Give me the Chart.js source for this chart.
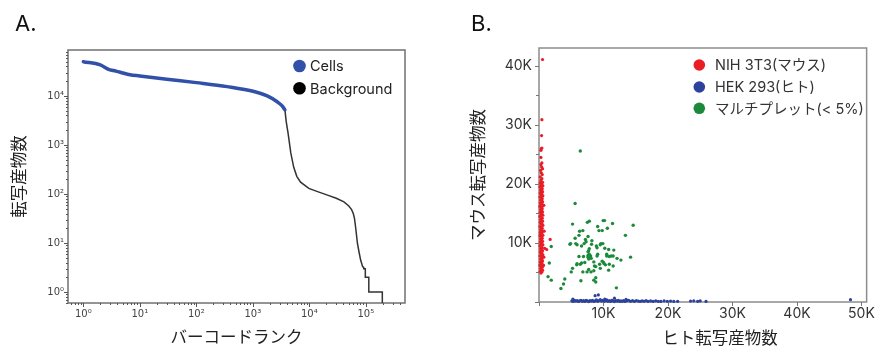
<!DOCTYPE html>
<html><head><meta charset="utf-8">
<script src="https://cdn.jsdelivr.net/npm/chart.js@4"></script>
<style>
html,body{margin:0;padding:0;background:#fff;}
#wrap{position:relative;width:878px;height:347px;overflow:hidden;background:#fff;}
#ca{position:absolute;left:0;top:0;}
#cb{position:absolute;left:440px;top:0;}
</style></head><body>
<div id="wrap"><canvas id="ca" width="440" height="347"></canvas><canvas id="cb" width="438" height="347"></canvas></div>
<script>
// ---------- Panel A: barcode rank plot ----------
const panelLabels = ['A.', 'B.'];
const legendA = ['Cells', 'Background'];
const xTitleA = 'バーコードランク';
const yTitleA = '転写産物数';
const xTickLabelsA = ['10⁰', '10¹', '10²', '10³', '10⁴', '10⁵'];
const yTickLabelsA = ['10⁰', '10¹', '10²', '10³', '10⁴'];
const cellRanks  = [1, 2, 2.8, 3.4, 4.5, 6.7, 10, 30, 100, 350, 1050, 1800, 2700, 3300, 3700];
const cellCounts = [50000, 43000, 35000, 33000, 30500, 27000, 25600, 22000, 18700, 15500, 12300, 10000, 7600, 6300, 5200];
const bgRanks  = [3700, 3900, 4200, 4700, 5300, 6000, 7000, 9800, 14000, 21000, 30000, 41000, 50000, 56000, 60000, 63000, 66000, 71000, 76000, 81000, 88000, 92000, 92000, 98000, 98000, 113000, 113000, 196000, 196000];
const bgCounts = [5200, 3000, 1760, 690, 350, 230, 175, 130, 112, 95, 82, 69, 57, 48, 40, 32, 21, 10, 6.5, 4.5, 3.3, 3.2, 3, 3, 2, 2, 1, 1, 0.1];

// ---------- Panel B: species mixing (values in thousands) ----------
const legendB = ['NIH 3T3(マウス)', 'HEK 293(ヒト)', 'マルチプレット(< 5%)'];
const xTitleB = 'ヒト転写産物数';
const yTitleB = 'マウス転写産物数';
const xTickLabelsB = ['10K', '20K', '30K', '40K', '50K'];
const yTickLabelsB = ['10K', '20K', '30K', '40K'];
const mouseCellsK = [
[0.30,4.9],[0.45,5.1],[0.20,5.2],[0.55,5.4],[0.35,5.5],[0.25,5.7],[0.50,5.9],[0.40,6.0],[0.15,6.2],[0.60,6.3],
[0.30,6.5],[0.45,6.7],[0.20,6.8],[0.55,7.0],[0.35,7.2],[0.25,7.3],[0.50,7.5],[0.40,7.7],[0.15,7.8],[0.60,8.0],
[0.30,8.2],[0.45,8.3],[0.20,8.5],[0.55,8.7],[0.35,8.8],[0.25,9.0],[0.50,9.2],[0.40,9.3],[0.15,9.5],[0.60,9.7],
[0.30,9.8],[0.45,10.0],[0.20,10.2],[0.55,10.3],[0.35,10.5],[0.25,10.7],[0.50,10.8],[0.40,11.0],[0.15,11.2],[0.60,11.3],
[0.30,11.5],[0.45,11.7],[0.20,11.8],[0.55,12.0],[0.35,12.2],[0.25,12.3],[0.50,12.5],[0.40,12.7],[0.15,12.8],[0.60,13.0],
[0.30,13.2],[0.45,13.3],[0.20,13.5],[0.55,13.7],[0.35,13.8],[0.25,14.0],[0.50,14.2],[0.40,14.3],[0.15,14.5],[0.60,14.7],
[0.30,14.8],[0.45,15.0],[0.20,15.2],[0.55,15.3],[0.35,15.5],[0.25,15.7],[0.50,15.8],[0.40,16.0],[0.15,16.2],[0.60,16.3],
[0.30,16.5],[0.45,16.7],[0.20,16.8],[0.55,17.0],[0.35,17.2],[0.25,17.3],[0.50,17.5],[0.40,17.7],[0.15,17.8],[0.60,18.0],
[0.30,18.2],[0.45,18.3],[0.20,18.5],[0.55,18.7],[0.35,18.8],[0.25,19.0],[0.50,19.2],[0.40,19.3],[0.15,19.5],[0.60,19.7],
[0.30,19.8],[0.45,20.0],[0.20,20.2],[0.55,20.3],
[0.30,20.6],[0.45,20.9],[0.20,21.2],[0.50,21.6],[0.35,21.9],[0.25,22.3],[0.55,22.6],[0.40,22.9],[0.30,23.3],[0.45,23.6],
[0.30,24.5],[0.30,25.7],[0.45,26.1],[0.35,26.0],[0.40,28.2],[0.45,30.9],[0.55,41.1],
[1.73,10.6],[1.20,8.9],[0.90,9.1],[0.75,7.6],[0.80,12.0],[0.70,6.2],[0.75,16.4]
];
const humanCellsK = [
[5.1,0.2],[5.3,0.1],[5.5,0.3],[5.7,0.15],[5.9,0.25],[6.1,0.1],[6.3,0.2],[6.5,0.3],[6.7,0.12],[6.9,0.22],
[7.1,0.1],[7.3,0.3],[7.5,0.18],[7.7,0.08],[7.9,0.25],[8.1,0.15],[8.3,0.3],[8.5,0.1],[8.7,0.2],[8.9,0.35],
[9.1,0.12],[9.3,0.25],[9.5,0.4],[9.7,0.15],[9.9,0.3],[10.1,0.1],[10.3,0.22],[10.5,0.35],[10.7,0.12],[10.9,0.25],
[11.1,0.1],[11.3,0.3],[11.5,0.18],[11.7,0.08],[11.9,0.25],[12.1,0.15],[12.3,0.3],[12.5,0.1],[12.7,0.2],[12.9,0.12],
[13.1,0.25],[13.3,0.1],[13.6,0.2],[13.9,0.3],[14.2,0.12],[14.5,0.22],[14.8,0.1],[15.1,0.25],[15.4,0.15],[15.7,0.1],
[16.0,0.2],[16.3,0.12],[16.6,0.25],[16.9,0.1],[17.3,0.18],[17.7,0.1],[18.1,0.2],[18.5,0.12],[18.9,0.1],[19.4,0.2],
[19.9,0.12],[20.4,0.15],[20.9,0.1],[21.5,0.12],
[8.7,1.07],[9.2,1.2],[11.7,0.65],[5.25,0.5],[10.2,0.5],[13.5,0.45],
[23.5,0.15],[24.0,0.2],[24.6,0.12],[25.0,0.18],[25.9,0.1],[48.3,0.4]
];
const multipletsK = [
[6.4,25.6],[5.6,16.7],[5.2,13.2],[7.5,13.5],[7.8,13.7],[9.95,13.8],[10.15,13.8],[11.4,13.3],[14.6,13.0],[9.1,12.8],
[6.8,12.1],[9.3,12.1],[9.8,12.1],[10.6,12.5],[6.2,11.3],[13.4,11.3],[5.6,10.8],[7.2,10.6],[7.6,11.1],[7.0,9.9],
[8.15,9.8],[4.8,9.8],[5.7,9.9],[6.6,9.5],[9.6,9.9],[8.9,9.5],[7.7,8.7],[10.2,9.1],[11.6,8.8],[9.1,8.1],
[7.6,7.9],[7.8,7.7],[7.9,7.5],[7.7,7.3],[8.0,7.8],[7.8,8.1],[7.6,7.6],[8.1,7.4],
[6.2,7.7],[6.9,7.7],[10.5,8.1],[10.9,7.7],[11.5,7.8],[11.2,7.8],[12.1,7.4],[12.7,7.1],[14.2,7.6],[5.85,6.3],
[6.6,6.6],[7.1,6.7],[5.2,5.7],[5.0,5.1],[6.4,6.4],[8.5,6.8],[9.4,6.4],[10.0,6.7],[10.3,6.3],[10.9,6.4],
[11.5,6.1],[8.8,6.0],[9.5,5.7],[7.7,5.5],[6.8,5.1],[7.45,5.1],[8.06,5.1],[8.5,5.3],[10.8,5.4],[8.8,4.1],
[8.5,3.7],[8.8,3.4],[6.5,3.6],[12.0,2.4],[1.6,6.6],[1.4,4.3],[1.9,3.7],[4.0,3.9],[3.8,3.05],[3.4,2.3],
[1.9,9.4],[5.9,6.5],[9.0,7.8],[10.5,7.8],[9.0,9.2],[10.8,8.9],[8.2,10.4],[7.3,10.2],[9.5,9.7],[5.9,9.7],
[7.8,9.05],[7.6,8.5],[9.9,9.9],[4.9,9.9],[6.3,12.0],[8.6,6.1],[9.8,6.9],[10.1,6.5]
];

const FONT = "Inter, 'Noto Sans CJK JP', sans-serif";
const JP = "'Noto Sans CJK JP', Inter, sans-serif";
const COL_RED = '#ea1d25', COL_BLUE = '#2d429c', COL_GREEN = '#1d8a3b', COL_CELLS = '#3150a8';

function isPow10(v) { const l = Math.log10(v); return Math.abs(l - Math.round(l)) < 1e-9; }
function logTickValues(min, max) {
  const out = [];
  for (let d = Math.floor(Math.log10(min)); d <= Math.ceil(Math.log10(max)); d++) {
    for (let m = 1; m <= 9; m++) { const v = m * Math.pow(10, d); if (v >= min && v <= max) out.push(v); }
  }
  return out;
}

const framePlugin = (color, width) => ({
  id: 'frame',
  beforeDatasetsDraw(chart) {
    const {ctx, chartArea: a} = chart;
    ctx.save(); ctx.strokeStyle = color; ctx.lineWidth = width;
    ctx.strokeRect(a.left, a.top, a.right - a.left, a.bottom - a.top);
    ctx.restore();
  }
});
const tickPlugin = (isMajor, majLen, minLen, color) => ({
  id: 'tickmarks',
  afterDraw(chart) {
    const {ctx, chartArea: a} = chart;
    ctx.save(); ctx.strokeStyle = color; ctx.lineWidth = 1;
    for (const id of ['x', 'y']) {
      const s = chart.scales[id];
      for (const t of s.ticks) {
        const len = isMajor(id, t.value) ? majLen : minLen;
        if (!len) continue;
        const p = Math.round(s.getPixelForValue(t.value)) + 0.5;
        ctx.beginPath();
        if (id === 'x') { ctx.moveTo(p, a.bottom); ctx.lineTo(p, a.bottom + len); }
        else { ctx.moveTo(a.left, p); ctx.lineTo(a.left - len, p); }
        ctx.stroke();
      }
    }
    ctx.restore();
  }
});
const textPlugin = (items) => ({
  id: 'texts',
  afterDraw(chart) {
    const ctx = chart.ctx; ctx.save();
    for (const t of items) {
      ctx.font = t.font; ctx.fillStyle = t.color; ctx.textAlign = t.align || 'left';
      ctx.textBaseline = t.baseline || 'alphabetic'; ctx.fillText(t.text, t.x, t.y);
    }
    ctx.restore();
  }
});
const legendPlugin = (labels, colors, cx, tx, ys, r, font, color) => ({
  id: 'customLegend',
  afterDraw(chart) {
    const ctx = chart.ctx; ctx.save();
    labels.forEach((lab, i) => {
      ctx.beginPath(); ctx.fillStyle = colors[i]; ctx.arc(cx, ys[i], r, 0, Math.PI * 2); ctx.fill();
      ctx.font = font; ctx.fillStyle = color; ctx.textAlign = 'left'; ctx.textBaseline = 'middle';
      ctx.fillText(lab, tx, ys[i] + 1);
    });
    ctx.restore();
  }
});

// ---------- Chart A ----------
const AX = {xmin: 0.535, xmax: 494000, ymin: 0.6, ymax: 86500};
new Chart(document.getElementById('ca'), {
  type: 'line',
  data: { datasets: [
    { label: legendA[1], data: bgRanks.map((r, i) => ({x: r, y: bgCounts[i]})),
      borderColor: '#333', borderWidth: 1.5, pointRadius: 0, tension: 0, order: 2 },
    { label: legendA[0], data: cellRanks.map((r, i) => ({x: r, y: cellCounts[i]})),
      borderColor: COL_CELLS, borderWidth: 3.5, pointRadius: 0, cubicInterpolationMode: 'monotone',
      borderCapStyle: 'round', order: 1 }
  ]},
  options: {
    responsive: false, animation: false, events: [],
    layout: { padding: { top: 50, right: 35, left: 0, bottom: 0 } },
    plugins: { legend: { display: false }, tooltip: { enabled: false } },
    scales: {
      x: { type: 'logarithmic', min: AX.xmin, max: AX.xmax,
        afterBuildTicks: s => { s.ticks = logTickValues(AX.xmin, AX.xmax).map(v => ({value: v})); },
        afterFit: s => { s.height = 44; },
        grid: { display: false, drawTicks: false }, border: { display: false },
        ticks: { autoSkip: false, maxRotation: 0, padding: 5, color: '#444',
          font: { family: 'DejaVu Sans', size: 10 },
          callback: v => isPow10(v) ? (xTickLabelsA[Math.round(Math.log10(v))] || '') : '' },
        title: { display: true, text: xTitleA, color: '#222', font: { family: JP, size: 16.5 }, padding: { top: 0, bottom: 0 } }
      },
      y: { type: 'logarithmic', min: AX.ymin, max: AX.ymax,
        afterBuildTicks: s => { s.ticks = logTickValues(AX.ymin, AX.ymax).map(v => ({value: v})); },
        afterFit: s => { s.width = 68; },
        grid: { display: false, drawTicks: false }, border: { display: false },
        ticks: { autoSkip: false, padding: 4, color: '#444',
          font: { family: 'DejaVu Sans', size: 10 },
          callback: v => isPow10(v) ? (yTickLabelsA[Math.round(Math.log10(v))] || '') : '' },
        title: { display: true, text: yTitleA, color: '#222', font: { family: JP, size: 16.5 }, padding: { top: 9, bottom: 0 } }
      }
    }
  },
  plugins: [
    framePlugin('#707070', 1.5),
    tickPlugin((id, v) => isPow10(v), 4, 2, '#555'),
    legendPlugin(legendA, [COL_CELLS, '#000'], 299.5, 310, [66, 88.3], 6.3, '14.5px ' + FONT, '#222'),
    textPlugin([{ text: panelLabels[0], x: 15, y: 31, font: '22px ' + FONT, color: '#111' }])
  ]
});

// ---------- Chart B ----------
const BX = {xmax: 50.8, ymax: 43.05};
new Chart(document.getElementById('cb'), {
  type: 'scatter',
  data: { datasets: [
    { label: legendB[0], data: mouseCellsK.map(([x, y]) => ({x, y})), pointRadius: 1.6,
      pointBackgroundColor: COL_RED, pointBorderColor: COL_RED, pointBorderWidth: 0, clip: 6 },
    { label: legendB[1], data: humanCellsK.map(([x, y]) => ({x, y})), pointRadius: 1.6,
      pointBackgroundColor: COL_BLUE, pointBorderColor: COL_BLUE, pointBorderWidth: 0, clip: 6 },
    { label: legendB[2], data: multipletsK.map(([x, y]) => ({x, y})), pointRadius: 1.7,
      pointBackgroundColor: COL_GREEN, pointBorderColor: COL_GREEN, pointBorderWidth: 0, clip: 6 }
  ]},
  options: {
    responsive: false, animation: false, events: [],
    layout: { padding: { top: 48, right: 10, left: 0, bottom: 0 } },
    plugins: { legend: { display: false }, tooltip: { enabled: false } },
    scales: {
      x: { type: 'linear', min: 0, max: BX.xmax,
        afterBuildTicks: s => { s.ticks = [0, 10, 20, 30, 40, 50].map(v => ({value: v})); },
        afterFit: s => { s.height = 45; },
        grid: { display: false, drawTicks: false }, border: { display: false },
        ticks: { autoSkip: false, maxRotation: 0, padding: 3, color: '#333', font: { family: FONT, size: 14 },
          callback: v => v > 0 ? (xTickLabelsB[Math.round(v / 10) - 1] || '') : '' },
        title: { display: false }
      },
      y: { type: 'linear', min: 0, max: BX.ymax,
        afterBuildTicks: s => { s.ticks = [0, 5, 10, 15, 20, 25, 30, 35, 40].map(v => ({value: v})); },
        afterFit: s => { s.width = 99; },
        grid: { display: false, drawTicks: false }, border: { display: false },
        ticks: { autoSkip: false, padding: 7, color: '#333', font: { family: FONT, size: 14 },
          callback: v => (v > 0 && v % 10 === 0) ? (yTickLabelsB[v / 10 - 1] || '') : '' },
        title: { display: true, text: yTitleB, color: '#222', font: { family: JP, size: 16.5 }, padding: { top: 27.5, bottom: 0 } }
      }
    }
  },
  plugins: [
    framePlugin('#8c8c8c', 1.5),
    tickPlugin((id, v) => id === 'x' || v % 10 === 0, 4, 3, '#777'),
    legendPlugin(legendB, [COL_RED, COL_BLUE, COL_GREEN], 259.3, 275, [65, 87, 108.3], 5.8, '14.5px ' + FONT, '#333'),
    textPlugin([
      { text: panelLabels[1], x: 31, y: 31, font: '22px ' + FONT, color: '#111' },
      { text: xTitleB, x: 280, y: 338, font: '16.5px ' + JP, color: '#222', align: 'center', baseline: 'middle' }
    ])
  ]
});
</script>
</body></html>
